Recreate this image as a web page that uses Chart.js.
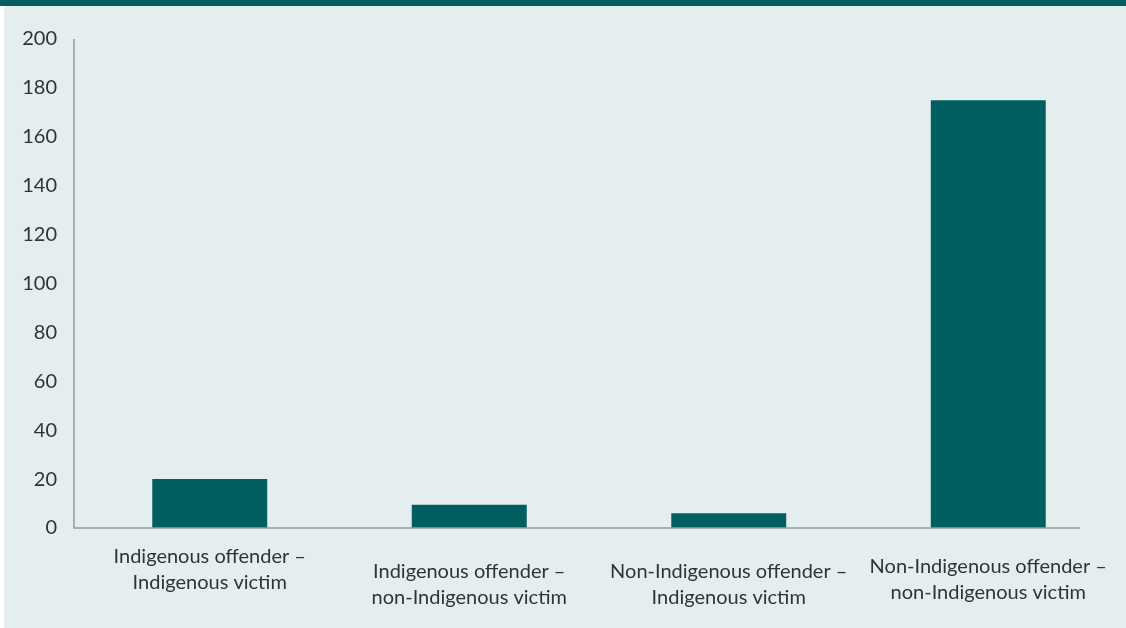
<!DOCTYPE html>
<html>
<head>
<meta charset="utf-8">
<script src="https://cdn.jsdelivr.net/npm/chart.js@4"></script>
<style>
  html, body { margin: 0; padding: 0; }
  body {
    width: 1126px;
    height: 628px;
    background: #e4eeef;
    position: relative;
    overflow: hidden;
  }
  .band {
    position: absolute;
    left: 0; top: 0;
    width: 1126px; height: 6px;
    background: #01605f;
  }
  .edge {
    position: absolute;
    left: 0; top: 6px;
    width: 4px; height: 622px;
    background: #ffffff;
  }
  #chart { position: absolute; left: 0; top: 0; }
</style>
</head>
<body>
<div class="band"></div>
<div class="edge"></div>
<canvas id="chart" width="1126" height="628"></canvas>
<script>
// categories, each label split into its two printed lines
const categories = [
  ["Indigenous offender \u2013", "Indigenous victim"],
  ["Indigenous offender \u2013", "non-Indigenous victim"],
  ["Non-Indigenous offender \u2013", "Indigenous victim"],
  ["Non-Indigenous offender \u2013", "non-Indigenous victim"]
];
const values = [20, 9.5, 6, 175];
const yTicks = [0, 20, 40, 60, 80, 100, 120, 140, 160, 180, 200];

// label placement below the axis (the source staggers them a bit)
const labelTop = [557, 572, 572, 567];

const textColor = "#333333";
const axisColor = "#9a9a9a";
const fontFamily = "Lato, 'Open Sans', sans-serif";

// draws the axis lines and the two-line category labels
const axisAndLabels = {
  id: 'axisAndLabels',
  afterDraw(chart) {
    const { ctx, chartArea } = chart;
    const xs = chart.scales.x;
    const ys = chart.scales.y;
    const axisX = chartArea.left - 6;
    const zeroY = ys.getPixelForValue(0);
    ctx.save();
    ctx.strokeStyle = axisColor;
    ctx.lineWidth = 1.5;
    ctx.beginPath();
    ctx.moveTo(axisX, ys.getPixelForValue(200));
    ctx.lineTo(axisX, zeroY);
    ctx.lineTo(chartArea.right - 38, zeroY);
    ctx.stroke();

    ctx.fillStyle = textColor;
    ctx.font = "20px " + fontFamily;
    ctx.textAlign = "center";
    ctx.textBaseline = "middle";
    categories.forEach((lines, i) => {
      const x = xs.getPixelForValue(i);
      lines.forEach((line, j) => {
        ctx.fillText(line, x, labelTop[i] + j * 26);
      });
    });
    ctx.restore();
  }
};

new Chart(document.getElementById('chart'), {
  type: 'bar',
  data: {
    labels: categories.map(l => l.join(' ')),
    datasets: [{
      data: values,
      backgroundColor: '#01605f',
      borderWidth: 0,
      categoryPercentage: 1,
      barPercentage: 0.443
    }]
  },
  options: {
    responsive: false,
    animation: false,
    layout: { padding: { top: 39, right: 8, left: 0, bottom: 0 } },
    plugins: {
      legend: { display: false },
      tooltip: { enabled: false }
    },
    scales: {
      x: {
        grid: { display: false, drawTicks: false },
        border: { display: false },
        ticks: { display: false },
        afterFit(scale) { scale.height = 100; }
      },
      y: {
        min: 0,
        max: 200,
        afterBuildTicks(scale) { scale.ticks = yTicks.map(v => ({ value: v })); },
        grid: { display: false, drawTicks: false },
        border: { display: false },
        ticks: {
          padding: 23,
          color: textColor,
          font: { size: 20, family: fontFamily }
        },
        afterFit(scale) { scale.width = 80; }
      }
    }
  },
  plugins: [axisAndLabels]
});
</script>
</body>
</html>
